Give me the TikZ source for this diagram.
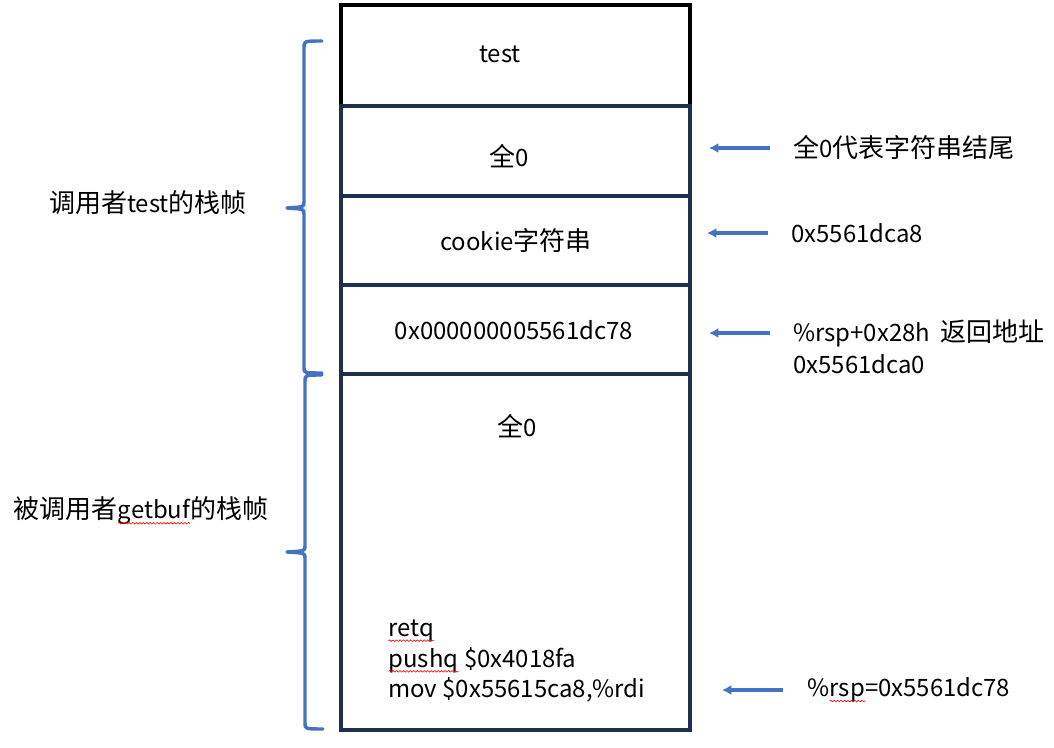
\documentclass[tikz,border=0pt]{standalone}
\usepackage{fontspec}
\setmainfont{Noto Sans CJK SC}[Scale=0.92]
\newfontfamily\cjk{Noto Sans CJK SC}
\usetikzlibrary{positioning,arrows.meta,decorations.pathmorphing}
\definecolor{frameNavy}{HTML}{1F2F4F}
\definecolor{wordBlue}{HTML}{4472C4}
\newcommand\redwave[1]{\tikz[baseline=(w.base)]{\node[inner sep=0pt,outer sep=0pt] (w) {#1};
    \draw[red,line width=0.45pt,decorate,decoration={snake,amplitude=0.6pt,segment length=2.6pt}]
    ([yshift=-3.2pt]w.base west) -- ([yshift=-3.2pt]w.base east);}}

\begin{document}
\begin{tikzpicture}[x=0.75pt,y=-0.75pt,
    cellBox/.style={draw=frameNavy,line width=2.7pt,minimum width=261.75pt,outer sep=0pt,inner sep=0pt},
    cellText/.style={inner sep=0pt,font=\fontsize{19.5pt}{23pt}\selectfont},
    noteText/.style={cellText,anchor=west},
    ptrArrow/.style={draw=wordBlue,line width=2.5pt,-{Latex[length=7pt,width=7.5pt]}},
    braceLine/.style={draw=wordBlue,line width=2.6pt,line cap=round,line join=round}]
    \useasboundingbox (0,0) rectangle (1054,748);
    % the stack
    \node[cellBox,draw=black,minimum height=75.75pt] (cTest) at (515.5,55.5) {};
    \node[cellBox,minimum height=67.5pt,below=0pt of cTest] (cZero) {};
    \node[cellBox,minimum height=66.75pt,below=0pt of cZero] (cCookie) {};
    \node[cellBox,minimum height=66.75pt,below=0pt of cCookie] (cRet) {};
    \node[cellBox,minimum height=267pt,below=0pt of cRet] (cBuf) {};
    \node[cellText] (tTest) at (500,54) {test};
    \node[cellText] (tZero) at (509,156) {{\cjk 全}0};
    \node[cellText] (tCookie) at (516,241) {cookie{\cjk 字符串}};
    \node[cellText] (tRet) at (514,330) {0x000000005561dc78};
    \node[cellText] (tBuf) at (517,426) {{\cjk 全}0};
    \node[cellText,anchor=west,align=left] (tCode) at (388,661)
        {\redwave{retq}\\\redwave{pushq} \$0x4018fa\\mov \$0x55615ca8,\%rdi};
    % frames
    \node[cellText] (fTest) at (148,203) {{\cjk 调用者}test{\cjk 的栈帧}};
    \node[cellText] (fBuf) at (141,511) {{\cjk 被调用者}\redwave{getbuf}{\cjk 的栈帧}};
    \draw[braceLine] (322,41) .. controls (304,41) .. (304,48) -- (304,202)
        .. controls (304,207) .. (287,208) .. controls (304,209) .. (304,214)
        -- (304,368) .. controls (304,373) .. (322,373);
    \draw[braceLine] (322,375) .. controls (305,375) .. (305,381) -- (305,546)
        .. controls (305,551) .. (287,552) .. controls (305,553) .. (305,558)
        -- (305,723) .. controls (305,729) .. (323,729);
    % notes
    \node[noteText] (nZeroEnd) at (793,148) {{\cjk 全}0{\cjk 代表字符串结尾}};
    \node[noteText] (nCookie) at (791,233) {0x5561dca8};
    \node[noteText] (nRetAddr) at (793,333) {\%rsp+0x28h\ \ {\cjk 返回地址}};
    \node[noteText] (nRetVal) at (793,364) {0x5561dca0};
    \node[noteText] (nRsp) at (807,690) {\%\redwave{rsp}=0x5561dc78};
    \coordinate (pZeroEnd) at (709,148);
    \coordinate (pCookie) at (707,233);
    \coordinate (pRetAddr) at (709,333);
    \coordinate (pRsp) at (722,690);
    \draw[ptrArrow] ([xshift=-17.5pt]nZeroEnd.west) -- (pZeroEnd);
    \draw[ptrArrow] ([xshift=-17.5pt]nCookie.west) -- (pCookie);
    \draw[ptrArrow] ([xshift=-17.5pt]nRetAddr.west) -- (pRetAddr);
    \draw[ptrArrow] ([xshift=-18pt]nRsp.west) -- (pRsp);
\end{tikzpicture}
\end{document}
